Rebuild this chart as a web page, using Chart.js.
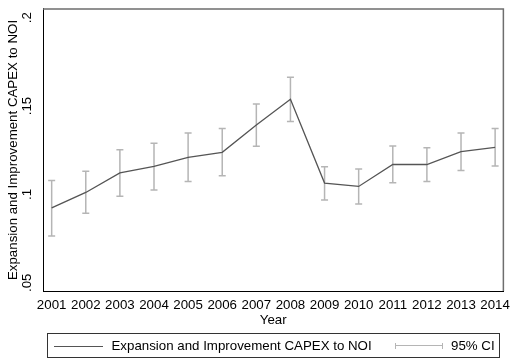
<!DOCTYPE html>
<html>
<head>
<meta charset="utf-8">
<script src="https://cdn.jsdelivr.net/npm/chart.js@4"></script>
<style>
  html, body { margin: 0; padding: 0; background: #fff; }
  #wrap { position: relative; width: 511px; height: 360px; font-family: "Liberation Sans", Arial, sans-serif; }
  canvas { position: absolute; left: 0; top: 0; }
  #legend { position: absolute; left: 47px; top: 333px; width: 453px; height: 25px; border: 1px solid #333; box-sizing: border-box; font-size: 13.3px; line-height: 16px; color: #000; }
  #legend .s1 { position: absolute; left: 6px; top: 11.5px; width: 49px; height: 0; border-top: 1px solid #555; }
  #legend .t1 { position: absolute; left: 63.5px; top: 4px; white-space: nowrap; }
  #legend .s2 { position: absolute; left: 347px; top: 11px; width: 48px; height: 0; border-top: 1.5px solid #b5b5b5; }
  #legend .c2a, #legend .c2b { position: absolute; top: 9px; width: 0; height: 6px; border-left: 1.5px solid #b5b5b5; }
  #legend .c2a { left: 347px; }
  #legend .c2b { left: 394px; }
  #legend .t2 { position: absolute; left: 403px; top: 4px; white-space: nowrap; }
</style>
</head>
<body>
<div id="wrap">
  <canvas id="c" width="511" height="360"></canvas>
  <div id="legend">
    <div class="s1"></div><div class="t1">Expansion and Improvement CAPEX to NOI</div>
    <div class="s2"></div><div class="c2a"></div><div class="c2b"></div><div class="t2">95% CI</div>
  </div>
</div>
<script>
const years = [2001, 2002, 2003, 2004, 2005, 2006, 2007, 2008, 2009, 2010, 2011, 2012, 2013, 2014];
const meanValues = [0.0924, 0.1011, 0.1122, 0.1158, 0.1210, 0.1238, 0.1392, 0.1538, 0.1064, 0.1045, 0.1169, 0.1169, 0.1242, 0.1266];
const upperCI = [0.1079, 0.1131, 0.1253, 0.1289, 0.1347, 0.1373, 0.1511, 0.1663, 0.1157, 0.1143, 0.1274, 0.1264, 0.1347, 0.1373];
const lowerCI = [0.0764, 0.0893, 0.0989, 0.1025, 0.1073, 0.1105, 0.1272, 0.1412, 0.0968, 0.0946, 0.1066, 0.1073, 0.1135, 0.1161];
const yTickValues = [0.05, 0.1, 0.15, 0.2];
const yTickLabels = [".05", ".1", ".15", ".2"];
const seriesLabel = "Expansion and Improvement CAPEX to NOI";
const xTitle = "Year";
const yTitle = "Expansion and Improvement CAPEX to NOI";

const FONT = "'Liberation Sans', Arial, sans-serif";
const FS = 13.3;

const frameAndErrorBars = {
  id: 'frameAndErrorBars',
  beforeDatasetsDraw(chart) {
    const {ctx, chartArea, scales: {x, y}} = chart;
    ctx.save();
    ctx.strokeStyle = '#6e6e6e';
    ctx.lineWidth = 1.5;
    ctx.beginPath();
    ctx.moveTo(chartArea.left, chartArea.top);
    ctx.lineTo(chartArea.right, chartArea.top);
    ctx.lineTo(chartArea.right, chartArea.bottom);
    ctx.stroke();
    ctx.strokeStyle = '#b5b5b5';
    ctx.lineWidth = 1.5;
    const cap = 3.5;
    years.forEach((yr, i) => {
      const px = x.getPixelForValue(yr);
      const pt = y.getPixelForValue(upperCI[i]);
      const pb = y.getPixelForValue(lowerCI[i]);
      ctx.beginPath();
      ctx.moveTo(px, pt); ctx.lineTo(px, pb);
      ctx.moveTo(px - cap, pt); ctx.lineTo(px + cap, pt);
      ctx.moveTo(px - cap, pb); ctx.lineTo(px + cap, pb);
      ctx.stroke();
    });
    ctx.restore();
  }
};

new Chart(document.getElementById('c'), {
  type: 'line',
  data: {
    datasets: [{
      label: seriesLabel,
      data: years.map((yr, i) => ({x: yr, y: meanValues[i]})),
      borderColor: '#555555',
      borderWidth: 1.3,
      pointRadius: 0,
      tension: 0,
      fill: false
    }]
  },
  options: {
    responsive: false,
    animation: false,
    devicePixelRatio: 1,
    layout: { padding: { left: 0, right: 5, top: 7, bottom: 32 } },
    plugins: { legend: { display: false }, tooltip: { enabled: false } },
    scales: {
      x: {
        type: 'linear',
        min: 2000.746,
        max: 2014.242,
        afterBuildTicks: s => { s.ticks = years.map(v => ({value: v})); },
        afterFit: s => { s.height = 37; },
        grid: { display: false, drawTicks: true, tickLength: 5, tickColor: '#000' },
        border: { display: true, color: '#000', width: 1 },
        ticks: {
          color: '#000',
          font: { family: FONT, size: FS },
          padding: 1,
          maxRotation: 0,
          autoSkip: false,
          callback: v => String(v)
        },
        title: { display: true, text: xTitle, color: '#000', font: { family: FONT, size: FS }, padding: { top: 0, bottom: 0 } }
      },
      y: {
        type: 'linear',
        min: 0.04534,
        max: 0.20489,
        afterBuildTicks: s => { s.ticks = yTickValues.map(v => ({value: v})); },
        afterFit: s => { s.width = 43; },
        grid: { display: false, drawTicks: true, tickLength: 5, tickColor: '#000' },
        border: { display: true, color: '#000', width: 1 },
        ticks: {
          color: '#000',
          font: { family: FONT, size: FS },
          minRotation: 90,
          maxRotation: 90,
          crossAlign: 'center',
          padding: 1,
          autoSkip: false,
          callback: v => {
            const k = yTickValues.findIndex(t => Math.abs(t - v) < 1e-9);
            return k >= 0 ? yTickLabels[k] : '';
          }
        },
        title: { display: true, text: yTitle, color: '#000', font: { family: FONT, size: FS }, padding: { top: 5, bottom: 0 } }
      }
    }
  },
  plugins: [frameAndErrorBars]
});
</script>
</body>
</html>
